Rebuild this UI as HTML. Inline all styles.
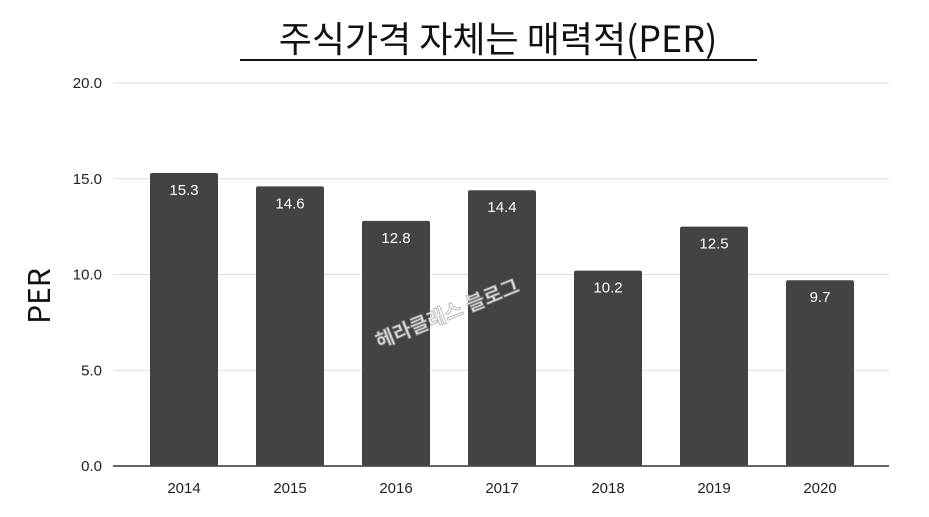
<!DOCTYPE html>
<html><head><meta charset="utf-8">
<style>
body{margin:0;background:#fff;width:929px;height:512px;overflow:hidden;font-family:"Liberation Sans","Noto Sans CJK KR",sans-serif;}
</style></head>
<body>
<svg id="chart" width="929" height="512" xmlns="http://www.w3.org/2000/svg">
<text x="498" y="52" text-anchor="middle" font-size="36" font-family="Noto Sans CJK KR, sans-serif" fill="#111">주식가격 자체는 매력적(PER)</text>
<line x1="240" x2="757" y1="60" y2="60" stroke="#111" stroke-width="2"/>
<text transform="translate(50,296) rotate(-90)" text-anchor="middle" font-size="30" font-family="Noto Sans CJK KR, sans-serif" fill="#111">PER</text>
<g id="grid"></g><g id="bars"></g>
<text transform="translate(450,320) rotate(-22)" text-anchor="middle" font-size="20" font-weight="bold" fill="#fff" stroke="#999" stroke-width="0.8" opacity="0.8">헤라클래스 블로그</text>
</svg>
<script>
const categories=["2014","2015","2016","2017","2018","2019","2020"];
const values=[15.3,14.6,12.8,14.4,10.2,12.5,9.7];
const ticks=[0,5,10,15,20];
const tickLabels=["0.0","5.0","10.0","15.0","20.0"];
const NS="http://www.w3.org/2000/svg";
const y0=466,yTop=83,yMax=20,left=113,right=889,step=106,firstC=184,bw=68;
const y=v=>y0-(v/yMax)*(y0-yTop);
const x=i=>firstC+i*step;
const grid=document.getElementById('grid'),bars=document.getElementById('bars');
function mk(t,a,p){const e=document.createElementNS(NS,t);for(const k in a)e.setAttribute(k,a[k]);p.appendChild(e);return e;}
ticks.forEach((t,i)=>{
 const l=mk('line',{x1:left,x2:right,y1:y(t),y2:y(t),stroke:t===0?'#333':'#ddd','stroke-width':t===0?1.5:1},grid);
 
 
 const tx=mk('text',{x:102,y:y(t)+5,'text-anchor':'end','font-size':15,fill:'#222'},grid);
 tx.textContent=tickLabels[i];
 
 
});
categories.forEach((c,i)=>{
 const r=mk('rect',{x:x(i)-bw/2,y:y(values[i]),width:bw,height:y0-y(values[i]),fill:'#434343',rx:2},bars);
 
 
 const v=mk('text',{x:x(i),y:y(values[i])+22,'text-anchor':'middle','font-size':15,fill:'#fff'},bars);
 v.textContent=values[i].toFixed(1);
 
 
 const cl=mk('text',{x:x(i),y:493,'text-anchor':'middle','font-size':15,fill:'#222'},bars);
 cl.textContent=c;
 
 
});
</script>
</body></html>
